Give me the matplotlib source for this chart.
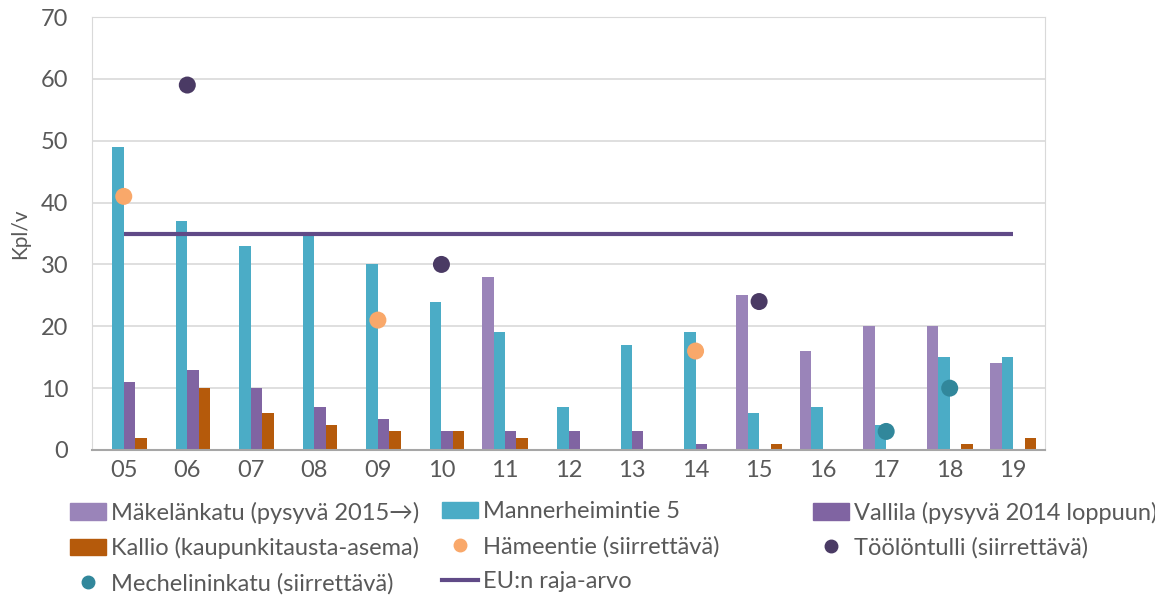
import numpy as np
import matplotlib
matplotlib.use("Agg")
import matplotlib.pyplot as plt
from matplotlib.lines import Line2D
from matplotlib.patches import Patch

categories = ["05", "06", "07", "08", "09", "10", "11", "12", "13", "14", "15", "16", "17", "18", "19"]
nan = np.nan
makelankatu = [nan, nan, nan, nan, nan, nan, 28, nan, nan, nan, 25, 16, 20, 20, 14]
mannerheimintie = [49, 37, 33, 35, 30, 24, 19, 7, 17, 19, 6, 7, 4, 15, 15]
vallila = [11, 13, 10, 7, 5, 3, 3, 3, 3, 1, nan, nan, nan, nan, nan]
kallio = [2, 10, 6, 4, 3, 3, 2, nan, nan, nan, 1, nan, nan, 1, 2]
hameentie = [41, nan, nan, nan, 21, nan, nan, nan, nan, 16, nan, nan, nan, nan, nan]
toolontulli = [nan, 59, nan, nan, nan, 30, nan, nan, nan, nan, 24, nan, nan, nan, nan]
mechelininkatu = [nan, nan, nan, nan, nan, nan, nan, nan, nan, nan, nan, nan, 3, 10, nan]
eu_limit = [35] * len(categories)

bar_series = [
    ("Mäkelänkatu (pysyvä 2015\u2192)", makelankatu, "#9A84B9"),
    ("Mannerheimintie 5", mannerheimintie, "#4BACC6"),
    ("Vallila (pysyvä 2014 loppuun)", vallila, "#8064A2"),
    ("Kallio (kaupunkitausta-asema)", kallio, "#B55A0B"),
]
point_series = [
    ("Hämeentie (siirrettävä)", hameentie, "#F9A86A"),
    ("Töölöntulli (siirrettävä)", toolontulli, "#4A3A64"),
    ("Mechelininkatu (siirrettävä)", mechelininkatu, "#31879B"),
]
eu_label = "EU:n raja-arvo"
eu_color = "#604A87"

plt.rcParams['font.family'] = ['Lato', 'DejaVu Sans']

fig = plt.figure(figsize=(11.55, 5.99), dpi=100)
ax = fig.add_axes([92/1155, 1 - 450/599, (1045-92)/1155, (450-17)/599])

x = np.arange(len(categories))
bw = 0.18
handles = {}
for i, (lab, vals, col) in enumerate(bar_series):
    ax.bar(x + (i - 1.5) * bw, vals, width=bw, color=col, label=lab, zorder=2)
    handles[lab] = Patch(color=col)
for lab, vals, col in point_series:
    ax.scatter(x, vals, s=150, color=col, zorder=4, edgecolor='none')
    handles[lab] = Line2D([], [], marker='o', linestyle='none', color=col, markersize=9)
ax.plot(x, eu_limit, color=eu_color, lw=3, zorder=3, solid_capstyle='butt')
handles[eu_label] = Line2D([], [], color=eu_color, lw=3)

ax.set_xlim(-0.5, len(categories) - 0.5)
ax.set_ylim(0, 70)
ax.set_yticks(range(0, 71, 10))
ax.set_xticks(x)
ax.set_xticklabels(categories)
ax.grid(axis='y', color='#D9D9D9', lw=1.2, zorder=0)
for s in ['left', 'right', 'top']:
    ax.spines[s].set_color('#D9D9D9')
ax.spines['bottom'].set_color('#A6A6A6')
ax.spines['bottom'].set_linewidth(1.5)
ax.tick_params(length=0, labelsize=17, colors='#595959')
ax.tick_params(axis='y', pad=17)
ax.tick_params(axis='x', pad=7)
ax.set_ylabel("Kpl/v", fontsize=15, color='#595959', labelpad=8)

columns = [
    ([bar_series[0][0], bar_series[3][0], point_series[2][0]], 61),
    ([bar_series[1][0], point_series[0][0], eu_label], 433),
    ([bar_series[2][0], point_series[1][0]], 804),
]
for labels, xpos in columns:
    fig.legend([handles[k] for k in labels], labels, loc='upper left',
               bbox_to_anchor=(xpos/1155, 1 - 492/599), ncol=1, frameon=False,
               fontsize=17, labelcolor='#595959', handlelength=1.5, handletextpad=0.2,
               labelspacing=0.58, borderaxespad=0)

fig.savefig("out.png", dpi=100)
